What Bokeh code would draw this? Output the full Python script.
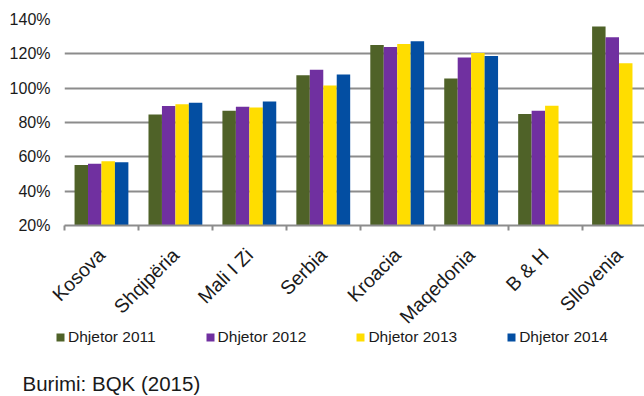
import math
from bokeh.plotting import figure
from bokeh.layouts import column
from bokeh.models import (Range1d, FixedTicker, PrintfTickFormatter, CustomJSTickFormatter,
                          Legend, LegendItem, Label)
from bokeh.embed import file_html
from bokeh.resources import INLINE

nan = float("nan")

categories = ["Kosova", "Shqipëria", "Mali I Zi", "Serbia", "Kroacia", "Maqedonia", "B & H", "Sllovenia"]
series_names = ["Dhjetor 2011", "Dhjetor 2012", "Dhjetor 2013", "Dhjetor 2014"]
dhjetor_2011 = [55.2, 84.7, 86.9, 107.5, 125.1, 105.7, 84.9, 135.9]
dhjetor_2012 = [56.0, 89.6, 89.2, 110.8, 124.0, 117.8, 86.9, 129.6]
dhjetor_2013 = [57.5, 90.6, 88.8, 101.5, 125.7, 120.5, 89.8, 114.5]
dhjetor_2014 = [56.9, 91.5, 92.3, 107.9, 127.3, 118.7, nan, nan]
y_ticks = [20, 40, 60, 80, 100, 120, 140]
source_note = "Burimi: BQK (2015)"

series_values = [dhjetor_2011, dhjetor_2012, dhjetor_2013, dhjetor_2014]
colors = ["#4F6228", "#7030A0", "#FFDD00", "#034EA2"]

FONT = "Liberation Sans"
TXT = "#1a1a1a"
cat_index = list(range(len(categories)))
bar_w = 0.182

W = 644
H1 = 355          # chart figure height (its lowest strip is overlapped by the legend strip)
AXIS_Y = 225      # pixel row of the 20% baseline
H2 = 72           # legend / source strip
OVERLAP = H1 + H2 - 396

p = figure(width=W, height=H1, output_backend="svg", toolbar_location=None,
           x_range=Range1d(0, (W - 63.5) / 74.0), y_range=Range1d(y_ticks[0], y_ticks[-1]),
           min_border_left=64, min_border_top=19, min_border_right=0, min_border_bottom=H1 - AXIS_Y)
p.outline_line_color = None
p.background_fill_color = "white"
p.border_fill_color = "white"

renderers = []
for j, (vals, col) in enumerate(zip(series_values, colors)):
    xs = [i + 0.5 + (j - 1.5) * bar_w for i in cat_index]
    r = p.vbar(x=xs, top=vals, bottom=y_ticks[0], width=bar_w, fill_color=col, line_color=None)
    renderers.append(r)

# y axis
yax = p.yaxis[0]
yax.ticker = FixedTicker(ticks=y_ticks)
yax.formatter = PrintfTickFormatter(format="%d%%")
yax.axis_line_color = None
yax.major_tick_line_color = None
yax.minor_tick_line_color = None
yax.major_tick_out = 0
yax.major_label_standoff = 14
yax.major_label_text_font = FONT
yax.major_label_text_font_size = "16px"
yax.major_label_text_color = TXT

# x axis
xax = p.xaxis[0]
xax.ticker = FixedTicker(ticks=[i + 0.5 for i in cat_index], minor_ticks=list(range(len(categories) + 1)))
xax.formatter = CustomJSTickFormatter(args=dict(cats=categories),
                                      code="const i = Math.floor(tick); return (cats[i] !== undefined) ? cats[i] : '';")
xax.major_label_orientation = math.pi / 4
xax.axis_line_color = "#8c8c8c"
xax.axis_line_width = 2
xax.major_tick_line_color = None
xax.major_tick_out = 0
xax.major_tick_in = 0
xax.minor_tick_line_color = "#8c8c8c"
xax.minor_tick_line_width = 2
xax.minor_tick_out = 5
xax.minor_tick_in = 0
xax.major_label_standoff = 21
xax.major_label_text_font = FONT
xax.major_label_text_font_size = "19.5px"
xax.major_label_text_color = TXT

p.xgrid.grid_line_color = None
p.ygrid.ticker = FixedTicker(ticks=y_ticks)
p.ygrid.grid_line_color = "#8c8c8c"
p.ygrid.grid_line_width = 2

# lower strip: legend + source note (transparent, pulled up over the chart's empty bottom)
q = figure(width=W, height=H2, output_backend="svg", toolbar_location=None,
           x_range=Range1d(0, W), y_range=Range1d(0, H2),
           x_axis_location=None, y_axis_location=None,
           min_border_left=0, min_border_right=0, min_border_top=0, min_border_bottom=0,
           margin=(-OVERLAP, 0, 0, 0))
q.outline_line_color = None
q.grid.grid_line_color = None
q.background_fill_alpha = 0
q.border_fill_alpha = 0
q.frame_align = False
p.frame_align = False

# legend proxies (empty-height, outside the visible range; only their colours show in the legend)
proxies = []
for col in colors:
    proxies.append(q.vbar(x=[-1000], top=[0], bottom=[0], width=1, fill_color=col, line_color=None))

legend = Legend(items=[LegendItem(label=n, renderers=[r]) for n, r in zip(series_names, proxies)],
                orientation="horizontal", location=(55, 49), spacing=49,
                glyph_width=10, glyph_height=10, label_standoff=3, padding=0, margin=0,
                label_height=20,
                border_line_color=None, background_fill_alpha=0,
                label_text_font=FONT, label_text_font_size="15.5px", label_text_color=TXT)
q.add_layout(legend)

note = Label(x=22, y=13, x_units="screen", y_units="screen", text=source_note,
             text_font=FONT, text_font_size="20.5px", text_color=TXT, text_baseline="alphabetic")
q.add_layout(note)

layout = column(p, q, spacing=0)
open("out.html", "w").write(file_html(layout, INLINE))
